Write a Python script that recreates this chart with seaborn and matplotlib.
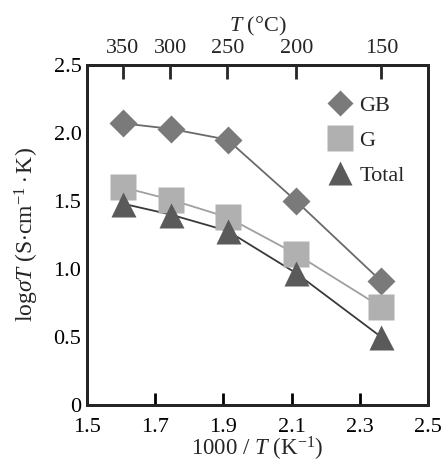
import matplotlib
matplotlib.use("Agg")
import matplotlib.pyplot as plt
import seaborn as sns
import pandas as pd
import numpy as np

# Data
temps_c = [350, 300, 250, 200, 150]
inv_t = [1.605, 1.745, 1.912, 2.113, 2.363]
gb = [2.07, 2.03, 1.95, 1.50, 0.91]
g = [1.60, 1.51, 1.38, 1.11, 0.72]
total = [1.48, 1.40, 1.28, 0.97, 0.50]
series_names = ["GB", "G", "Total"]
x_ticks = [1.5, 1.7, 1.9, 2.1, 2.3, 2.5]
y_ticks = [0, 0.5, 1.0, 1.5, 2.0, 2.5]
y_tick_labels = ["0", "0.5", "1.0", "1.5", "2.0", "2.5"]

sns.set_theme(style="white")
plt.rcParams["font.family"] = ["Liberation Serif", "DejaVu Serif"]
plt.rcParams["mathtext.fontset"] = "custom"
plt.rcParams["mathtext.rm"] = "Liberation Serif"
plt.rcParams["mathtext.it"] = "Liberation Serif:italic"

df = pd.DataFrame({
    "x": inv_t * 3,
    "y": gb + g + total,
    "series": [series_names[0]] * 5 + [series_names[1]] * 5 + [series_names[2]] * 5,
})

fig = plt.figure(figsize=(4.44, 4.63), dpi=100)
ax = fig.add_axes([0.196, 0.125, 0.768, 0.735])

line_colors = {"GB": "#6a6a6a", "G": "#a0a0a0", "Total": "#3a3a3a"}
marker_colors = {"GB": "#7a7a7a", "G": "#b0b0b0", "Total": "#5a5a5a"}
markers = {"GB": "D", "G": "s", "Total": "^"}
msizes = {"GB": 14, "G": 19, "Total": 18}

for name in series_names:
    sub = df[df["series"] == name]
    sns.lineplot(data=sub, x="x", y="y", ax=ax, color=line_colors[name],
                 linewidth=1.3, legend=False, zorder=2)
for name in series_names:
    sub = df[df["series"] == name]
    ax.plot(sub["x"], sub["y"], linestyle="none", marker=markers[name],
            markersize=msizes[name], markerfacecolor=marker_colors[name],
            markeredgecolor="none", zorder=3, label=name)

ax.set_xlim(1.5, 2.5)
ax.set_ylim(0, 2.5)
ax.set_xticks(x_ticks)
ax.set_xticklabels([f"{v:.1f}" for v in x_ticks])
ax.set_yticks(y_ticks)
ax.set_yticklabels(y_tick_labels)
ax.tick_params(axis="both", direction="in", length=9, width=2, labelsize=16,
               colors="black", pad=4)
ax.tick_params(axis="x", pad=9)
for s in ax.spines.values():
    s.set_linewidth(2)
    s.set_color("black")

ax.set_xlabel(r"1000 / $T$ (K$^{-1}$)", fontsize=16.5, labelpad=-1)
ax.set_ylabel(r"log$\sigma T$ (S$\cdot$cm$^{-1}\cdot$K)", fontsize=17, labelpad=9)

top = ax.twiny()
top.set_xlim(ax.get_xlim())
top.set_xticks([1000.0 / (t + 273.15) for t in temps_c])
top.set_xticklabels([str(t) for t in temps_c])
top.tick_params(axis="x", direction="in", length=10, width=2, labelsize=16, pad=5)
top.set_xlabel(r"$T$ (°C)", fontsize=16, labelpad=5)
for s in top.spines.values():
    s.set_linewidth(2)

leg = ax.legend(loc="upper right", frameon=False, fontsize=16, handletextpad=0.1,
                labelspacing=0.65, borderaxespad=0.5, handlelength=1.5,
                bbox_to_anchor=(0.99, 0.97), markerscale=0.95)

fig.savefig("out.png", dpi=100)
